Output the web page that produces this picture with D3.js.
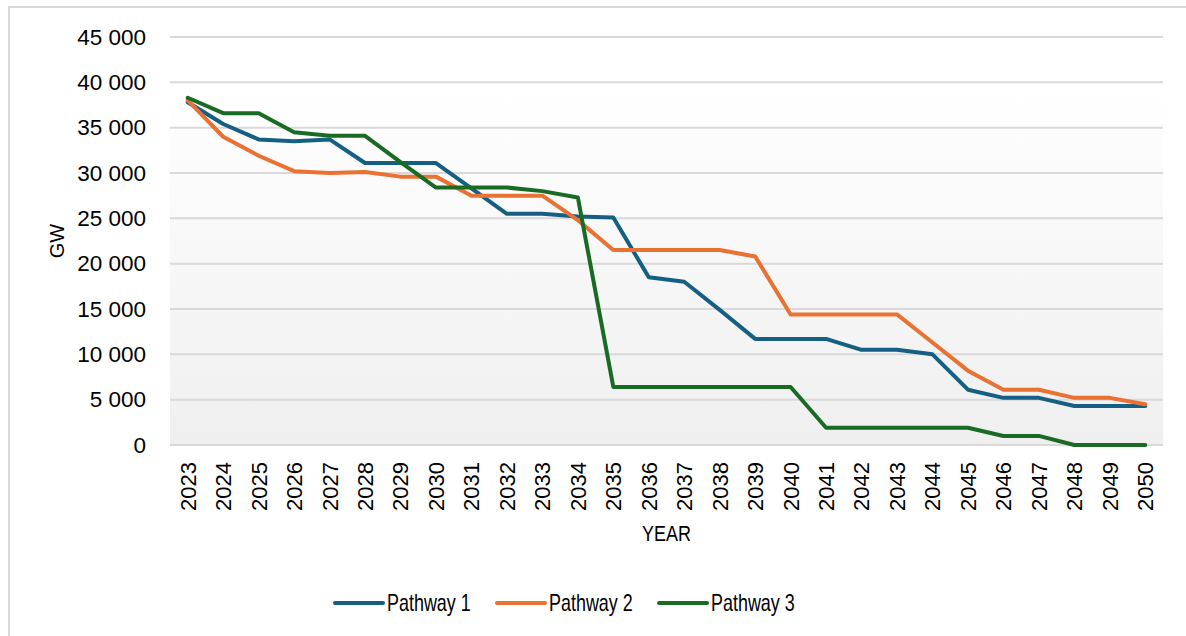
<!DOCTYPE html>
<html>
<head>
<meta charset="utf-8">
<script src="https://cdn.jsdelivr.net/npm/d3@7"></script>
<style>
  html, body { margin: 0; padding: 0; background: #ffffff; }
  svg { display: block; }
  .tick-label { font-family: "Liberation Sans", Arial, sans-serif; fill: #000; }
  .narrow { font-family: "Liberation Sans", Arial, sans-serif; fill: #000; }
</style>
</head>
<body>
<script>
// Installed capacity by year for three pathways (GW)
const years = d3.range(2023, 2051).map(String);

const pathway1 = [37800, 35400, 33700, 33500, 33700, 31100, 31100, 31100, 28300, 25500,
                  25500, 25200, 25100, 18500, 18000, 14900, 11700, 11700, 11700, 10500,
                  10500, 10000, 6100, 5200, 5200, 4300, 4300, 4300];
const pathway2 = [38000, 34000, 31900, 30200, 30000, 30100, 29600, 29600, 27500, 27500,
                  27500, 24800, 21500, 21500, 21500, 21500, 20800, 14400, 14400, 14400,
                  14400, 11300, 8200, 6100, 6100, 5200, 5200, 4500];
const pathway3 = [38300, 36600, 36600, 34500, 34100, 34100, 31200, 28400, 28400, 28400,
                  28000, 27300, 6400, 6400, 6400, 6400, 6400, 6400, 1900, 1900,
                  1900, 1900, 1900, 1000, 1000, 0, 0, 0];

const seriesNames = ["Pathway 1", "Pathway 2", "Pathway 3"];
const seriesColors = ["#156082", "#e97132", "#196b24"];
const yTicks = [0, 5000, 10000, 15000, 20000, 25000, 30000, 35000, 40000, 45000];
const xTitle = "YEAR";
const yTitle = "GW";

const W = 1186, H = 636;
const plot = { left: 170, right: 1163, top: 37, bottom: 445 };

const svg = d3.select("body").append("svg").attr("width", W).attr("height", H);

// Chart frame
svg.append("rect")
  .attr("x", 9).attr("y", 7).attr("width", W).attr("height", H)
  .attr("fill", "#ffffff").attr("stroke", "#d9d9d9").attr("stroke-width", 2);

const x = d3.scaleBand().domain(years).range([plot.left, plot.right]);
const y = d3.scaleLinear().domain([0, 45000]).range([plot.bottom, plot.top]);

// Plot area shading
const defs = svg.append("defs");
const grad = defs.append("linearGradient").attr("id", "plotFill")
  .attr("x1", 0).attr("y1", 0).attr("x2", 0).attr("y2", 1);
grad.append("stop").attr("offset", "0%").attr("stop-color", "#ffffff");
grad.append("stop").attr("offset", "100%").attr("stop-color", "#efefef");
svg.append("rect")
  .attr("x", plot.left).attr("y", y(39300))
  .attr("width", plot.right - plot.left).attr("height", plot.bottom - y(39300))
  .attr("fill", "url(#plotFill)");

// Horizontal gridlines
svg.append("g")
  .selectAll("line").data(yTicks).join("line")
  .attr("x1", plot.left).attr("x2", plot.right)
  .attr("y1", d => y(d)).attr("y2", d => y(d))
  .attr("stroke", "#d9d9d9").attr("stroke-width", 2);

// Y axis labels
const fmt = d => d3.format(",")(d).replace(/,/g, " ");
const yAxis = svg.append("g")
  .attr("transform", `translate(${plot.left},0)`)
  .call(d3.axisLeft(y).tickValues(yTicks).tickFormat(fmt).tickSize(0).tickPadding(24));
yAxis.select(".domain").remove();
yAxis.selectAll("text").attr("class", "tick-label").attr("font-size", 22.5).attr("fill", "#000");

// X axis labels (rotated)
const xAxis = svg.append("g")
  .attr("transform", `translate(0,${plot.bottom})`)
  .call(d3.axisBottom(x).tickSize(0));
xAxis.select(".domain").remove();
xAxis.selectAll("text")
  .attr("class", "tick-label").attr("font-size", 22).attr("fill", "#000")
  .attr("transform", "rotate(-90)")
  .attr("text-anchor", "end")
  .attr("x", -17).attr("y", 0).attr("dy", "0.36em");

// Axis titles
svg.append("text").attr("class", "tick-label")
  .attr("font-size", 20)
  .attr("transform", `translate(64,${(plot.top + plot.bottom) / 2}) rotate(-90)`)
  .attr("text-anchor", "middle")
  .text(yTitle);

svg.append("text").attr("class", "narrow")
  .attr("transform", `translate(${(plot.left + plot.right) / 2},541) scale(0.8,1)`)
  .attr("font-size", 22.5).attr("text-anchor", "middle")
  .text(xTitle);

// Series lines
const seriesData = [pathway1, pathway2, pathway3];
const line = d3.line()
  .x((d, i) => x(years[i]) + x.bandwidth() / 2)
  .y(d => y(d));

svg.append("g").selectAll("path").data(seriesData).join("path")
  .attr("d", line)
  .attr("fill", "none")
  .attr("stroke", (d, i) => seriesColors[i])
  .attr("stroke-width", 4)
  .attr("stroke-linejoin", "round")
  .attr("stroke-linecap", "round");

// Legend
const legendX = [335, 497, 659];
const legend = svg.append("g").selectAll("g").data(seriesNames).join("g")
  .attr("transform", (d, i) => `translate(${legendX[i]},603)`);
legend.append("line")
  .attr("x1", 0).attr("x2", 48).attr("y1", 0).attr("y2", 0)
  .attr("stroke", (d, i) => seriesColors[i])
  .attr("stroke-width", 4).attr("stroke-linecap", "round");
legend.append("text").attr("class", "narrow")
  .attr("transform", "translate(52,7.5) scale(0.78,1)")
  .attr("font-size", 23)
  .text(d => d);
</script>
</body>
</html>
